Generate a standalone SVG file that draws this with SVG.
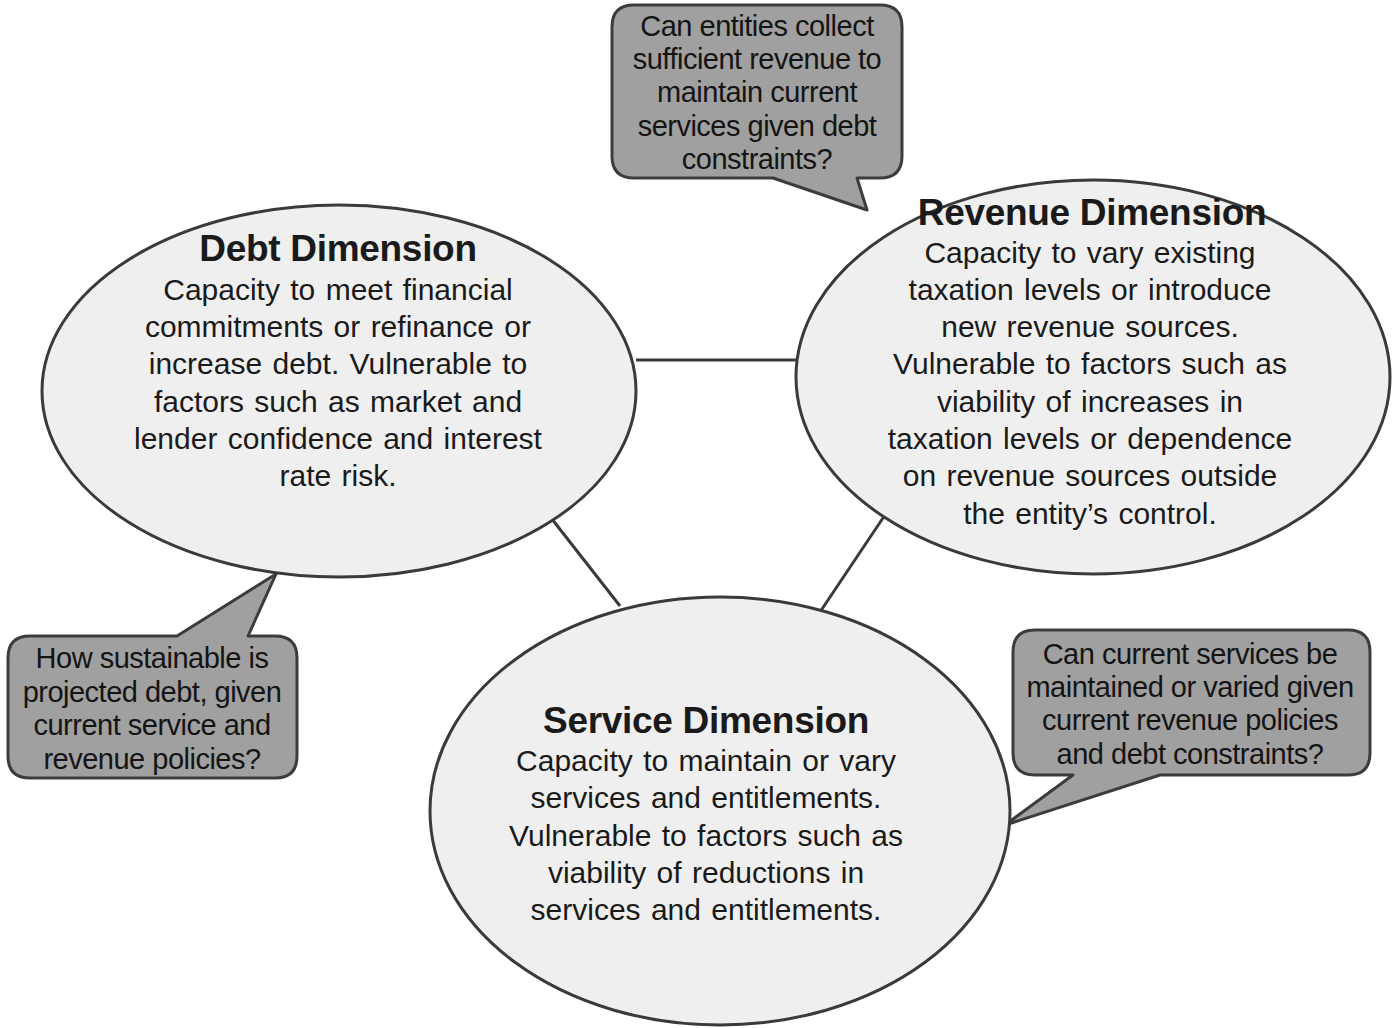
<svg xmlns="http://www.w3.org/2000/svg" width="1395" height="1028" viewBox="0 0 1395 1028">
<style>
.ell{fill:#efefef;stroke:#3a3a3a;stroke-width:3}
.call{fill:#a0a0a0;stroke:#3c3c3c;stroke-width:3;stroke-linejoin:round}
.con{stroke:#3a3a3a;stroke-width:3;fill:none}
text{font-family:"Liberation Sans",Arial,sans-serif;fill:#1a1a1a;text-anchor:middle}
.ttl{font-size:37px;font-weight:bold;letter-spacing:-0.3px}
.body{font-size:30px;word-spacing:2px}
.q{font-size:29px;letter-spacing:-0.5px;fill:#141414}
</style>
<rect width="1395" height="1028" fill="#ffffff"/>
<g id="connectors">
<line class="con" x1="636" y1="360" x2="797" y2="360"/>
<line class="con" x1="548" y1="514" x2="620" y2="606"/>
<line class="con" x1="885" y1="515" x2="820" y2="612"/>
</g>
<g id="callout-revenue">
<path class="call" d="M634,5 H880 Q902,5 902,27 V156 Q902,178 880,178 H857 L867,210 L773,178 H634 Q612,178 612,156 V27 Q612,5 634,5 Z"/>
<text class="q" x="757" y="36">Can entities collect</text>
<text class="q" x="757" y="69">sufficient revenue to</text>
<text class="q" x="757" y="102">maintain current</text>
<text class="q" x="757" y="136">services given debt</text>
<text class="q" x="757" y="169">constraints?</text>
</g>
<g id="callout-debt">
<path class="call" d="M30,636 H177 L276,574 L248,636 H275 Q297,636 297,658 V756 Q297,778 275,778 H30 Q8,778 8,756 V658 Q8,636 30,636 Z"/>
<text class="q" x="152" y="668">How sustainable is</text>
<text class="q" x="152" y="702">projected debt, given</text>
<text class="q" x="152" y="735">current service and</text>
<text class="q" x="152" y="769">revenue policies?</text>
</g>
<g id="callout-service">
<path class="call" d="M1035,630 H1348 Q1370,630 1370,652 V753 Q1370,775 1348,775 H1160 L1005,825 L1073,775 H1035 Q1013,775 1013,753 V652 Q1013,630 1035,630 Z"/>
<text class="q" x="1190" y="664">Can current services be</text>
<text class="q" x="1190" y="697">maintained or varied given</text>
<text class="q" x="1190" y="730">current revenue policies</text>
<text class="q" x="1190" y="764">and debt constraints?</text>
</g>
<g id="debt">
<ellipse class="ell" cx="339" cy="391" rx="297" ry="186"/>
<text class="ttl" x="338" y="261">Debt Dimension</text>
<text class="body" x="338" y="300">Capacity to meet financial</text>
<text class="body" x="338" y="337">commitments or refinance or</text>
<text class="body" x="338" y="374">increase debt. Vulnerable to</text>
<text class="body" x="338" y="412">factors such as market and</text>
<text class="body" x="338" y="449">lender confidence and interest</text>
<text class="body" x="338" y="486">rate risk.</text>
</g>
<g id="revenue">
<ellipse class="ell" cx="1093" cy="377" rx="297" ry="197"/>
<text class="ttl" x="1092" y="225">Revenue Dimension</text>
<text class="body" x="1090" y="263">Capacity to vary existing</text>
<text class="body" x="1090" y="300">taxation levels or introduce</text>
<text class="body" x="1090" y="337">new revenue sources.</text>
<text class="body" x="1090" y="374">Vulnerable to factors such as</text>
<text class="body" x="1090" y="412">viability of increases in</text>
<text class="body" x="1090" y="449">taxation levels or dependence</text>
<text class="body" x="1090" y="486">on revenue sources outside</text>
<text class="body" x="1090" y="524">the entity’s control.</text>
</g>
<g id="service">
<ellipse class="ell" cx="720" cy="811" rx="290" ry="214"/>
<text class="ttl" x="706" y="733">Service Dimension</text>
<text class="body" x="706" y="771">Capacity to maintain or vary</text>
<text class="body" x="706" y="808">services and entitlements.</text>
<text class="body" x="706" y="846">Vulnerable to factors such as</text>
<text class="body" x="706" y="883">viability of reductions in</text>
<text class="body" x="706" y="920">services and entitlements.</text>
</g>
</svg>
